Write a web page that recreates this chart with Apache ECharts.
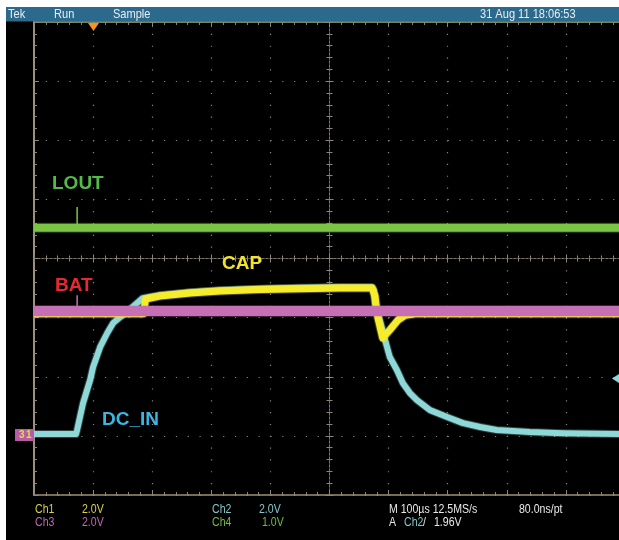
<!DOCTYPE html>
<html>
<head>
<meta charset="utf-8">
<title>Scope capture</title>
<script src="https://cdn.jsdelivr.net/npm/echarts@6/dist/echarts.min.js"></script>
<style>
  html, body { margin: 0; padding: 0; background: #fff; }
  #chart { width: 619px; height: 540px; }
</style>
</head>
<body>
<div id="chart"></div>
<script>
// time in µs (100 µs/div, trigger at t = 0), values in volts per channel
// Ch4 (LOUT) 1.0 V/div, Ch1/Ch2/Ch3 2.0 V/div, all grounds 3 div below centre
const lout = [[-100, 3.52], [900, 3.52]];
const loutGlitch = [[-27, 3.52], [-27, 3.87]];

const bat = [[-100, 4.22], [900, 4.22]];
const batGlitch = [[-27, 4.22], [-27, 4.76]];

const cap = [
  [-100, 4.13], [85, 4.13], [89, 4.63], [113, 4.73], [164, 4.83], [215, 4.90],
  [282, 4.95], [350, 4.98], [418, 5.00], [472, 5.00], [477, 4.73], [479, 4.39],
  [482, 3.99], [490, 3.31], [502, 3.58], [516, 3.92], [528, 4.08], [545, 4.13],
  [900, 4.13]
];

const dcIn = [
  [-100, 0.06], [-29, 0.06], [-27, 0.20], [-17, 1.11], [-5, 1.89], [0, 2.33],
  [12, 3.01], [24, 3.48], [34, 3.82], [46, 4.02], [57, 4.19], [74, 4.49],
  [84, 4.66], [91, 4.68], [113, 4.76], [164, 4.86], [215, 4.93], [282, 4.98],
  [350, 5.01], [418, 5.03], [472, 5.03], [475, 4.93], [477, 4.49], [486, 3.85],
  [494, 3.24], [502, 2.67], [514, 2.23], [524, 1.79], [536, 1.45], [548, 1.21],
  [570, 0.87], [599, 0.64], [626, 0.43], [655, 0.30], [683, 0.20], [739, 0.13],
  [795, 0.09], [900, 0.06]
];

// readouts
const statusTexts = ['Tek', 'Run', 'Sample', '31 Aug 11 18:06:53'];
const chLabels = ['Ch1', 'Ch2', 'Ch3', 'Ch4'];
const chScales = ['2.0V', '2.0V', '2.0V', '1.0V'];
const timebase = ['M 100\u00b5s 12.5MS/s', '80.0ns/pt'];
const triggerText = ['A', 'Ch2', '/', '1.96V'];

const GRID = { left: 34, top: 22, width: 591, height: 473, outerBoundsMode: 'none' };
const DOT = [1.2, 10.62];
const TAN = '#a09077';
const MINOR = '#8c867a';
const FONT = "'Liberation Sans', 'DejaVu Sans', sans-serif";

const chart = echarts.init(document.getElementById('chart'));

function edgeAxis(extra) {
  return Object.assign({
    type: 'value',
    axisLabel: { show: false },
    axisLine: { show: true, onZero: false, lineStyle: { color: TAN, width: 1.5 } },
    axisTick: { show: true, inside: true, length: 5, lineStyle: { color: MINOR } },
    minorTick: { show: true, splitNumber: 5, length: 3, lineStyle: { color: MINOR } },
    splitLine: { show: false },
    silent: true
  }, extra);
}

function centreAxis(extra, inside) {
  return Object.assign({
    type: 'value',
    interval: 1,
    axisLabel: { show: false },
    axisLine: { show: true, onZero: true, lineStyle: { color: '#7d766a', width: 1, type: [2, 2] } },
    axisTick: { show: true, inside: inside, length: 4, lineStyle: { color: '#8c857a' } },
    minorTick: { show: true, splitNumber: 5, length: 3, lineStyle: { color: '#8c857a' } },
    splitLine: { show: false },
    silent: true
  }, extra);
}

function trace(name, data, yIdx, color, width, z) {
  return [{
    name: name + ' halo', type: 'line', xAxisIndex: 0, yAxisIndex: yIdx, data: data,
    symbol: 'none', silent: true, z: z,
    lineStyle: { color: color, width: width + 2, opacity: 0.3, join: 'round' }
  }, {
    name: name, type: 'line', xAxisIndex: 0, yAxisIndex: yIdx, data: data,
    symbol: 'none', silent: true, z: z + 1,
    lineStyle: { color: color, width: width, join: 'round' }
  }];
}

function txt(x, y, text, fill, size, bold, sx) {
  return {
    type: 'text', x: x, y: y, scaleX: sx || 1, z: 100, silent: true,
    style: {
      text: text, fill: fill, verticalAlign: 'middle',
      font: (bold ? 'bold ' : '') + size + 'px ' + FONT
    }
  };
}

const option = {
  backgroundColor: '#000',
  animation: false,
  grid: [Object.assign({}, GRID), Object.assign({}, GRID), Object.assign({}, GRID)],
  xAxis: [
    edgeAxis({ gridIndex: 0, min: -100, max: 900, interval: 100, position: 'bottom',
      splitLine: { show: true, lineStyle: { color: MINOR, width: 1.2, type: DOT } } }),
    edgeAxis({ gridIndex: 0, min: -100, max: 900, interval: 100, position: 'top',
      axisLine: { show: true, onZero: false, lineStyle: { color: '#a7ad78', width: 1.5 } } }),
    centreAxis({ gridIndex: 1, min: -5, max: 5 }, true),
    centreAxis({ gridIndex: 2, min: -5, max: 5 }, false)
  ],
  yAxis: [
    edgeAxis({ gridIndex: 0, min: -4, max: 4, interval: 1, position: 'left',
      axisLine: { show: true, onZero: false, lineStyle: { color: TAN, width: 2 } },
      splitLine: { show: true, lineStyle: { color: MINOR, width: 1.2, type: DOT } } }),
    { gridIndex: 0, type: 'value', min: -2, max: 14, show: false, axisLine: { onZero: false } },
    { gridIndex: 0, type: 'value', min: -1, max: 7, show: false, axisLine: { onZero: false } },
    centreAxis({ gridIndex: 1, min: -4, max: 4 }, true),
    centreAxis({ gridIndex: 2, min: -4, max: 4 }, false)
  ],
  series: [].concat(
    trace('LOUT', lout, 2, '#7cc443', 8, 10),
    [{ name: 'LOUT glitch', type: 'line', xAxisIndex: 0, yAxisIndex: 2, data: loutGlitch,
       symbol: 'none', silent: true, z: 12, lineStyle: { color: '#7cc443', width: 1.5 } }],
    trace('DC_IN', dcIn, 1, '#8fd8d8', 6, 20),
    trace('CAP', cap, 1, '#f6ec2c', 7, 30),
    trace('BAT', bat, 1, '#c66fb4', 10, 40),
    [{ name: 'BAT glitch', type: 'line', xAxisIndex: 0, yAxisIndex: 1, data: batGlitch,
       symbol: 'none', silent: true, z: 42, lineStyle: { color: '#c66fb4', width: 1.5 } }]
  ),
  graphic: [
    { type: 'rect', shape: { x: 0, y: 0, width: 6, height: 540 }, style: { fill: '#fff' }, z: 100, silent: true },
    { type: 'rect', shape: { x: 0, y: 0, width: 619, height: 7 }, style: { fill: '#fff' }, z: 100, silent: true },
    { type: 'rect', shape: { x: 6, y: 7, width: 613, height: 14.5 }, style: { fill: '#2b6a8c' }, z: 100, silent: true },
    txt(8, 14.5, statusTexts[0], '#e6eef2', 13, false, 0.85),
    txt(54, 14.5, statusTexts[1], '#e6eef2', 13, false, 0.85),
    txt(113, 14.5, statusTexts[2], '#e6eef2', 13, false, 0.85),
    txt(480, 14.5, statusTexts[3], '#e6eef2', 13, false, 0.85),

    // trigger position marker
    { type: 'polygon', shape: { points: [[88, 23], [99, 23], [93.5, 31]] }, style: { fill: '#f7941d' }, z: 100, silent: true },
    // trigger level marker
    { type: 'polygon', shape: { points: [[619, 374], [612, 378.5], [619, 383]] }, style: { fill: '#8fd8d8' }, z: 100, silent: true },
    // ground markers
    { type: 'rect', shape: { x: 15, y: 429, width: 19, height: 12 }, style: { fill: '#b95aa5' }, z: 100, silent: true },
    txt(19, 435, '3', '#d8e04a', 10, true, 1),
    txt(26, 435, '1', '#d8e04a', 10, true, 1),

    // trace labels
    txt(52, 184, 'LOUT', '#55b94a', 19, true, 1),
    txt(55, 285.5, 'BAT', '#e42a30', 19, true, 1),
    txt(222, 263.5, 'CAP', '#f2e42a', 19, true, 1),
    txt(102, 419.5, 'DC_IN', '#3cb5e3', 19, true, 1),

    // readouts
    txt(35, 510, chLabels[0], '#dcd33a', 12, false, 0.88),
    txt(82, 510, chScales[0], '#dcd33a', 12, false, 0.88),
    txt(35, 523, chLabels[2], '#c466b4', 12, false, 0.88),
    txt(82, 523, chScales[2], '#c466b4', 12, false, 0.88),
    txt(212, 510, chLabels[1], '#82c8c8', 12, false, 0.88),
    txt(259, 510, chScales[1], '#82c8c8', 12, false, 0.88),
    txt(212, 523, chLabels[3], '#6fbe3e', 12, false, 0.88),
    txt(262, 523, chScales[3], '#6fbe3e', 12, false, 0.88),
    txt(389, 510, timebase[0], '#e8e8e8', 12, false, 0.88),
    txt(519, 510, timebase[1], '#e8e8e8', 12, false, 0.88),
    txt(389, 523, triggerText[0], '#e8e8e8', 12, false, 0.88),
    txt(404, 523, triggerText[1], '#82c8c8', 12, false, 0.88),
    txt(423, 523, triggerText[2], '#e8e8e8', 12, false, 0.88),
    txt(434, 523, triggerText[3], '#e8e8e8', 12, false, 0.88)
  ]
};

chart.setOption(option);
</script>
</body>
</html>
